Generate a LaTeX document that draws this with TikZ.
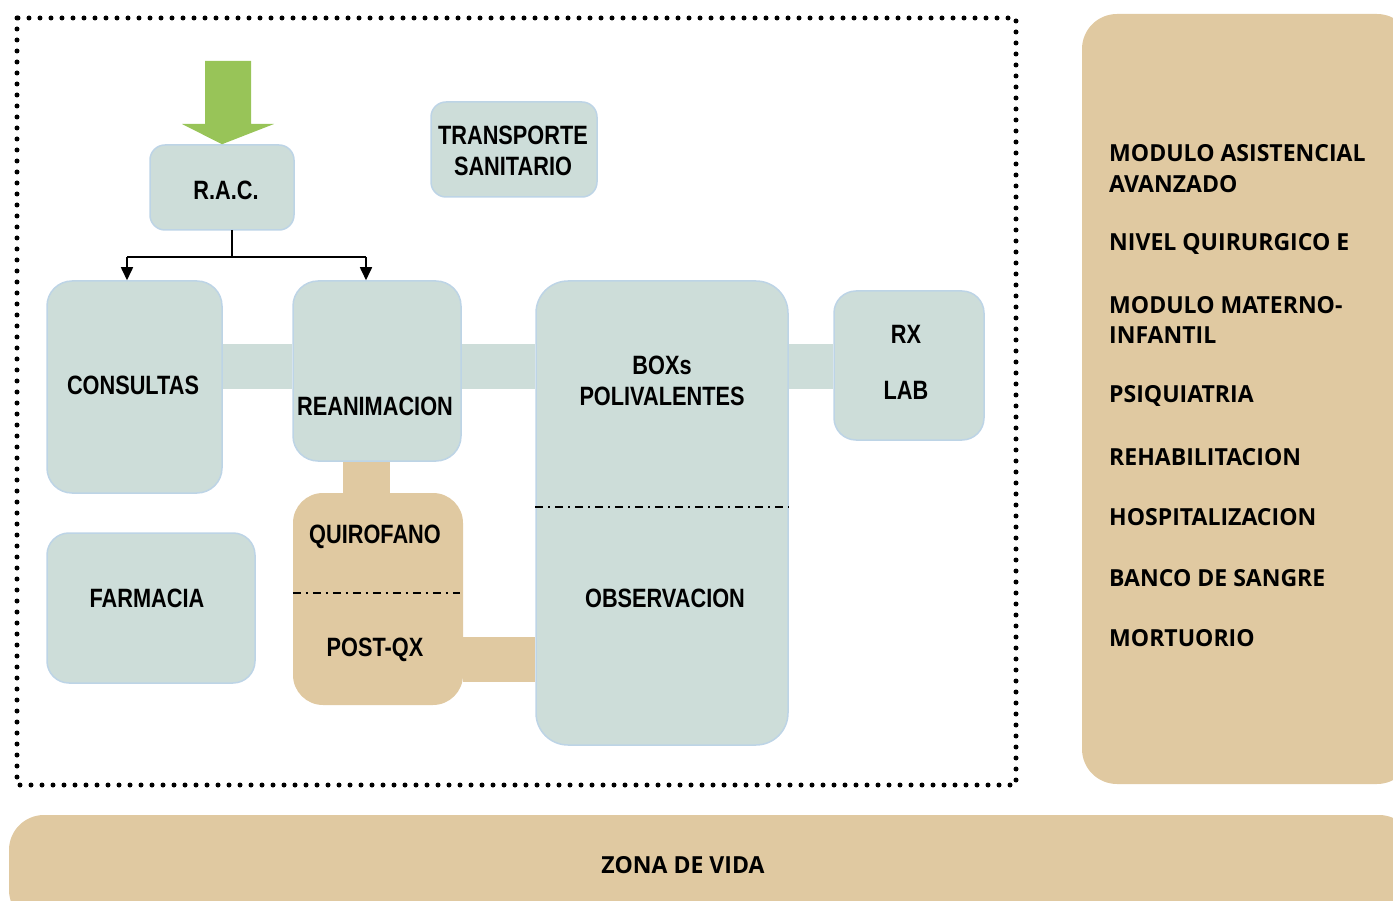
\documentclass[tikz,border=0pt]{standalone}
\usepackage{fontspec}
\usetikzlibrary{arrows.meta}
\newfontfamily\boxfont[FakeStretch=0.82]{Liberation Sans Bold}
\newfontfamily\panelfont[FakeStretch=0.98]{Open Sans Bold}
\definecolor{boxfill}{RGB}{205,221,217}
\definecolor{boxline}{RGB}{189,212,230}
\definecolor{tan}{RGB}{224,201,161}
\definecolor{arrowgreen}{RGB}{152,196,88}
\tikzset{
  bluebox/.style={draw=boxline, line width=1.5pt, fill=boxfill, rounded corners=#1, inner sep=0pt},
  bluebox/.default=15pt,
  tanbox/.style={fill=tan, rounded corners=#1, inner sep=0pt},
  tanbox/.default=30pt,
  lbl/.style={font=\boxfont\fontsize{26.5}{31}\selectfont, inner sep=0pt, align=center},
  plbl/.style={font=\panelfont\fontsize{23.5}{31}\selectfont, inner sep=0pt, anchor=west},
  conn/.style={draw=black, line width=1.6pt},
  dashdotline/.style={line width=2pt, dash pattern=on 8pt off 5pt on 2pt off 5pt},
}
\begin{document}
\begin{tikzpicture}[x=1pt,y=-1pt]
\useasboundingbox (0,0) rectangle (1393,901);
\clip (0,0) rectangle (1393,901);
% dotted frame
\draw[line width=5pt, dash pattern=on 0pt off 11pt, line cap=round] (17,18) rectangle (1016,785);
% right panel and bottom band
\node[tanbox=35pt, minimum width=330pt, minimum height=770pt] (panel) at (1247,399) {};
\node[tanbox=35pt, minimum width=1405pt, minimum height=110pt] (zona) at (711.5,870) {};
\node[plbl, anchor=center] (zonat) at (683,865) {ZONA DE VIDA};
% boxes
\node[bluebox, minimum width=144pt, minimum height=85pt] (rac) at (222,187.5) {};
\node[bluebox, minimum width=166pt, minimum height=95pt] (trans) at (514,149.5) {};
\node[bluebox=25pt, minimum width=175pt, minimum height=212pt] (cons) at (134.5,387) {};
\node[bluebox=25pt, minimum width=168pt, minimum height=180pt] (rean) at (377,371) {};
\node[bluebox=32pt, minimum width=252pt, minimum height=464pt] (boxs) at (662,513) {};
\node[bluebox=22pt, minimum width=150pt, minimum height=149pt] (rx) at (909,365.5) {};
\node[bluebox=22pt, minimum width=208pt, minimum height=150pt] (farm) at (151,608) {};
\node[tanbox=30pt, minimum width=170pt, minimum height=212pt] (quir) at (378,599) {};
% connecting bands
\fill[boxfill] (cons.east |- 0,344) rectangle (rean.west |- 0,389);
\fill[boxfill] (rean.east |- 0,344) rectangle (boxs.west |- 0,389);
\fill[boxfill] (boxs.east |- 0,344) rectangle (rx.west |- 0,389);
\fill[tan] (343,0 |- rean.south) rectangle (390,0 |- quir.north);
\fill[tan] (quir.east |- 0,637) rectangle (boxs.west |- 0,682);
% dash-dot separators
\draw[dashdotline] (boxs.west |- 0,507) -- (boxs.east |- 0,507);
\draw[dashdotline] (quir.west |- 0,593) -- (460,593);
% green arrow
\fill[arrowgreen] (205,61) -- (251,61) -- (251,124) -- (274,124) -- (rac.north) -- (182,124) -- (205,124) -- cycle;
% RAC connectors
\coordinate (racout) at (232,230);
\coordinate (split) at (232,257);
\coordinate (leftc) at (127,257);
\coordinate (rightc) at (366,257);
\draw[conn] (racout) -- (split);
\draw[conn] (leftc) -- (rightc);
\draw[conn, -{Triangle[length=13pt,width=12pt]}] (leftc) -- (cons.north -| leftc);
\draw[conn, -{Triangle[length=13pt,width=12pt]}] (rightc) -- (rean.north -| rightc);
% labels
\node[lbl] (ract) at (226,190) {R.A.C.};
\node[lbl] (transt) at (513,151) {TRANSPORTE\\SANITARIO};
\node[lbl] (const) at (133,385) {CONSULTAS};
\node[lbl] (reant) at (375,406) {REANIMACION};
\node[lbl] (boxst) at (662,381) {BOXs\\POLIVALENTES};
\node[lbl] (obst) at (665,598) {OBSERVACION};
\node[lbl] (rxt) at (906,334) {RX};
\node[lbl] (labt) at (906,390) {LAB};
\node[lbl] (farmt) at (147,598) {FARMACIA};
\node[lbl] (quirt) at (375,537) {QUIROFANO};
\node[lbl] (postt) at (375,650) {POST-QX};
% panel text
\node[plbl] (p1) at (1109,153) {MODULO ASISTENCIAL};
\node[plbl] (p2) at (1109,184) {AVANZADO};
\node[plbl] (p3) at (1109,244) {NIVEL QUIRURGICO E};
\node[plbl] (p4) at (1109,305) {MODULO MATERNO-};
\node[plbl] (p5) at (1109,335) {INFANTIL};
\node[plbl] (p6) at (1109,396) {PSIQUIATRIA};
\node[plbl] (p7) at (1109,457) {REHABILITACION};
\node[plbl] (p8) at (1109,517) {HOSPITALIZACION};
\node[plbl] (p9) at (1109,578) {BANCO DE SANGRE};
\node[plbl] (p10) at (1109,638) {MORTUORIO};
\end{tikzpicture}
\end{document}
